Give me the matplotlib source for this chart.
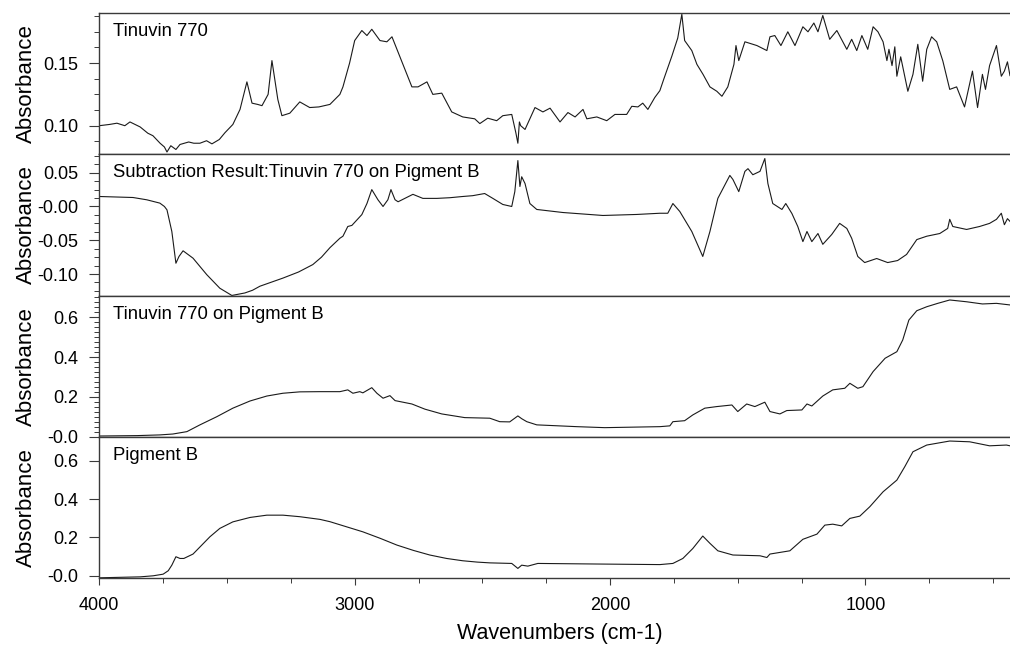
import matplotlib
matplotlib.use("Agg")
import matplotlib.pyplot as plt
from matplotlib.ticker import FixedLocator, MultipleLocator

plt.rcParams['font.family'] = ['Liberation Sans', 'DejaVu Sans']

# spectra (wavenumber, absorbance)
wn_tinuvin = [4000, 3960, 3931, 3900, 3880, 3860, 3840, 3810, 3790, 3762, 3745, 3735, 3720, 3700,
              3684, 3650, 3630, 3606, 3580, 3559, 3530, 3508, 3477, 3449, 3422, 3402, 3380, 3363,
              3339, 3324, 3301, 3285, 3254, 3215, 3176, 3140, 3097, 3058, 3046, 3020, 3000, 2972,
              2952, 2933, 2901, 2874, 2854, 2815, 2776, 2752, 2717, 2694, 2659, 2620, 2577, 2530,
              2510, 2479, 2444, 2420, 2385, 2369, 2361, 2355, 2350, 2333, 2294, 2263, 2235, 2196,
              2165, 2137, 2106, 2091, 2052, 2013, 1981, 1935, 1915, 1891, 1872, 1852, 1825, 1805,
              1790, 1758, 1735, 1719, 1708, 1680, 1660, 1636, 1609, 1582, 1562, 1539, 1515, 1507,
              1496, 1472, 1425, 1386, 1374, 1355, 1331, 1304, 1276, 1245, 1225, 1202, 1186, 1167,
              1140, 1112, 1073, 1054, 1034, 1014, 991, 970, 951, 931, 916, 908, 896, 885, 877, 862,
              834, 814, 795, 776, 760, 741, 721, 697, 670, 643, 612, 581, 561, 542, 530, 514, 487,
              468, 456, 444, 434]
abs_tinuvin = [0.100, 0.101, 0.102, 0.100, 0.103, 0.101, 0.099, 0.094, 0.092, 0.086, 0.083, 0.079,
               0.084, 0.081, 0.085, 0.087, 0.086, 0.086, 0.088, 0.0855, 0.089, 0.0944, 0.101, 0.113,
               0.135, 0.118, 0.117, 0.116, 0.125, 0.152, 0.121, 0.108, 0.110, 0.119, 0.1145, 0.115,
               0.117, 0.125, 0.131, 0.150, 0.168, 0.176, 0.172, 0.177, 0.168, 0.167, 0.171, 0.151,
               0.131, 0.131, 0.135, 0.125, 0.126, 0.111, 0.107, 0.1055, 0.1017, 0.106, 0.104, 0.108,
               0.109, 0.0944, 0.086, 0.103, 0.100, 0.097, 0.1145, 0.111, 0.114, 0.103, 0.1105, 0.107,
               0.113, 0.1055, 0.107, 0.104, 0.109, 0.109, 0.1155, 0.115, 0.118, 0.113, 0.1225, 0.128,
               0.137, 0.1556, 0.170, 0.189, 0.168, 0.160, 0.149, 0.141, 0.131, 0.1275, 0.1235, 0.131,
               0.149, 0.164, 0.152, 0.167, 0.164, 0.160, 0.171, 0.172, 0.164, 0.175, 0.164, 0.179,
               0.175, 0.182, 0.175, 0.188, 0.169, 0.176, 0.161, 0.169, 0.160, 0.172, 0.161, 0.179,
               0.175, 0.167, 0.152, 0.161, 0.148, 0.163, 0.1395, 0.155, 0.1275, 0.141, 0.165, 0.1355,
               0.161, 0.171, 0.167, 0.1517, 0.129, 0.131, 0.115, 0.1436, 0.1145, 0.141, 0.129, 0.148,
               0.164, 0.1395, 0.1436, 0.151, 0.140]

wn_subtr = [4000, 3930, 3868, 3814, 3763, 3745, 3735, 3716, 3700, 3688, 3672, 3633, 3579, 3528, 3481,
            3430, 3400, 3371, 3281, 3220, 3164, 3130, 3097, 3058, 3046, 3027, 3011, 2972, 2952, 2933,
            2909, 2889, 2870, 2858, 2842, 2830, 2772, 2733, 2678, 2627, 2577, 2538, 2491, 2459, 2420,
            2385, 2373, 2361, 2353, 2346, 2333, 2314, 2287, 2185, 2028, 1896, 1805, 1774, 1754, 1727,
            1680, 1637, 1609, 1578, 1531, 1519, 1496, 1472, 1460, 1441, 1413, 1394, 1382, 1363, 1327,
            1312, 1288, 1265, 1245, 1229, 1210, 1186, 1167, 1132, 1101, 1073, 1054, 1030, 1003, 956,
            913, 874, 839, 799, 760, 709, 678, 670, 658, 604, 553, 514, 487, 468, 456, 444, 434]
abs_subtr = [0.0148, 0.014, 0.0133, 0.0099, 0.005, 0.0, -0.005, -0.037, -0.084, -0.074, -0.0656,
             -0.0765, -0.101, -0.121, -0.1317, -0.128, -0.124, -0.118, -0.106, -0.097, -0.086, -0.075,
             -0.061, -0.047, -0.044, -0.0296, -0.028, -0.012, 0.0044, 0.025, 0.010, 0.000, 0.010,
             0.025, 0.010, 0.007, 0.018, 0.012, 0.012, 0.013, 0.0148, 0.016, 0.0192, 0.012, 0.003,
             0.000, 0.022, 0.068, 0.0296, 0.044, 0.034, 0.0044, -0.0044, -0.0089, -0.0133, -0.0118,
             -0.010, -0.010, 0.0044, -0.0074, -0.037, -0.074, -0.037, 0.012, 0.046, 0.040, 0.022,
             0.052, 0.056, 0.047, 0.052, 0.071, 0.034, 0.0044, -0.0044, 0.0044, -0.0104, -0.0296,
             -0.052, -0.037, -0.052, -0.040, -0.056, -0.0414, -0.025, -0.0325, -0.047, -0.074,
             -0.083, -0.077, -0.083, -0.080, -0.071, -0.049, -0.044, -0.040, -0.0325, -0.019,
             -0.0296, -0.034, -0.0296, -0.025, -0.019, -0.010, -0.027, -0.018, -0.022]

wn_on_pigment = [4000, 3852, 3763, 3712, 3657, 3606, 3540, 3477, 3410, 3344, 3281, 3215, 3136, 3058,
                 3027, 3007, 2980, 2968, 2933, 2913, 2889, 2862, 2842, 2776, 2725, 2659, 2569, 2471,
                 2432, 2393, 2361, 2346, 2326, 2287, 2130, 2021, 1805, 1766, 1754, 1708, 1676, 1629,
                 1582, 1523, 1500, 1465, 1433, 1394, 1374, 1335, 1308, 1249, 1229, 1210, 1167, 1128,
                 1081, 1061, 1030, 1010, 970, 923, 877, 854, 830, 799, 760, 717, 670, 604, 542, 487, 434]
abs_on_pigment = [0.003, 0.005, 0.0085, 0.013, 0.025, 0.059, 0.100, 0.143, 0.179, 0.204, 0.218, 0.225,
                  0.226, 0.226, 0.235, 0.218, 0.226, 0.220, 0.246, 0.218, 0.193, 0.206, 0.181, 0.164,
                  0.138, 0.114, 0.0955, 0.0925, 0.075, 0.074, 0.104, 0.090, 0.075, 0.059, 0.050, 0.045,
                  0.050, 0.054, 0.075, 0.080, 0.109, 0.143, 0.151, 0.159, 0.126, 0.164, 0.151, 0.173,
                  0.126, 0.114, 0.131, 0.134, 0.164, 0.154, 0.204, 0.235, 0.243, 0.268, 0.243, 0.251,
                  0.327, 0.394, 0.427, 0.486, 0.586, 0.633, 0.653, 0.670, 0.687, 0.678, 0.667, 0.670,
                  0.662]

wn_pigment = [4000, 3840, 3789, 3750, 3730, 3716, 3700, 3684, 3669, 3633, 3567, 3528, 3477, 3410, 3344,
              3281, 3215, 3136, 3097, 2968, 2900, 2835, 2770, 2706, 2640, 2577, 2520, 2471, 2385, 2361,
              2346, 2322, 2283, 2052, 1805, 1754, 1715, 1676, 1637, 1609, 1578, 1519, 1413, 1386, 1374,
              1296, 1245, 1190, 1159, 1128, 1093, 1061, 1022, 983, 931, 877, 846, 814, 760, 670, 592,
              514, 448, 434]
abs_pigment = [-0.011, -0.006, -0.0005, 0.008, 0.026, 0.055, 0.099, 0.090, 0.090, 0.113, 0.203, 0.247,
               0.281, 0.304, 0.316, 0.316, 0.308, 0.294, 0.282, 0.229, 0.195, 0.160, 0.132, 0.108,
               0.090, 0.078, 0.071, 0.067, 0.064, 0.038, 0.055, 0.050, 0.064, 0.061, 0.058, 0.064,
               0.090, 0.142, 0.207, 0.169, 0.130, 0.108, 0.104, 0.095, 0.113, 0.130, 0.190, 0.217,
               0.264, 0.269, 0.260, 0.299, 0.311, 0.360, 0.438, 0.499, 0.569, 0.647, 0.682, 0.703,
               0.699, 0.678, 0.682, 0.678]

titles = ['Tinuvin 770', 'Subtraction Result:Tinuvin 770 on Pigment B',
          'Tinuvin 770 on Pigment B', 'Pigment B']
ytick_vals = [[0.10, 0.15], [-0.10, -0.05, 0.0, 0.05], [0.0, 0.2, 0.4, 0.6], [0.0, 0.2, 0.4, 0.6]]
ytick_text = [['0.10', '0.15'], ['-0.10', '-0.05', '-0.00', '0.05'],
              ['-0.0', '0.2', '0.4', '0.6'], ['-0.0', '0.2', '0.4', '0.6']]
xtick_vals = [4000, 3000, 2000, 1000]
xtick_text = ['4000', '3000', '2000', '1000']

series = [(wn_tinuvin, abs_tinuvin), (wn_subtr, abs_subtr),
          (wn_on_pigment, abs_on_pigment), (wn_pigment, abs_pigment)]
ylims = [(0.0774, 0.190), (-0.1325, 0.0777), (-0.002, 0.707), (-0.012, 0.724)]
minor_steps = [0.0125, 0.0125, 0.025, None]

fig = plt.figure(figsize=(10.1, 6.45), dpi=100)
W, H = 1010, 645
edges = [13, 154, 296, 437, 578]
left, right = 99.3, 1010
frame = '#3a3a3a'

for i in range(4):
    top, bot = edges[i], edges[i + 1]
    ax = fig.add_axes([left / W, 1 - bot / H, (right - left) / W, (bot - top) / H])
    x, y = series[i]
    ax.plot(x, y, color='#1a1a1a', lw=0.8)
    ax.set_xlim(4000, 434)
    ax.set_ylim(*ylims[i])
    for s in ['top', 'bottom', 'left']:
        ax.spines[s].set_color(frame)
        ax.spines[s].set_linewidth(1.0)
    ax.spines['right'].set_visible(False)
    ax.yaxis.set_major_locator(FixedLocator(ytick_vals[i]))
    ax.set_yticklabels(ytick_text[i])
    if minor_steps[i]:
        ax.yaxis.set_minor_locator(MultipleLocator(minor_steps[i]))
    ax.tick_params(axis='y', which='major', direction='out', length=7, width=0.8,
                   color=frame, labelsize=13, pad=8)
    ax.tick_params(axis='y', which='minor', direction='out', length=3.5, width=0.7, color=frame)
    ax.set_ylabel('Absorbance', fontsize=16)
    ax.yaxis.set_label_coords(-0.068, 0.5)
    ax.text(0.015, 0.87, titles[i], transform=ax.transAxes, fontsize=13.3, va='center', ha='left')
    if i < 3:
        ax.tick_params(axis='x', which='both', bottom=False, labelbottom=False)
    else:
        ax.xaxis.set_major_locator(FixedLocator(xtick_vals))
        ax.set_xticklabels(xtick_text)
        ax.xaxis.set_minor_locator(MultipleLocator(250))
        ax.tick_params(axis='x', which='major', direction='out', length=5, width=0.8,
                       color=frame, labelsize=13, pad=9)
        ax.tick_params(axis='x', which='minor', direction='out', length=3.5, width=0.7, color=frame)

fig.text(560 / W, 1 - 634 / H, 'Wavenumbers (cm-1)', fontsize=15.5, ha='center', va='center')

fig.savefig('out.png', dpi=100)
